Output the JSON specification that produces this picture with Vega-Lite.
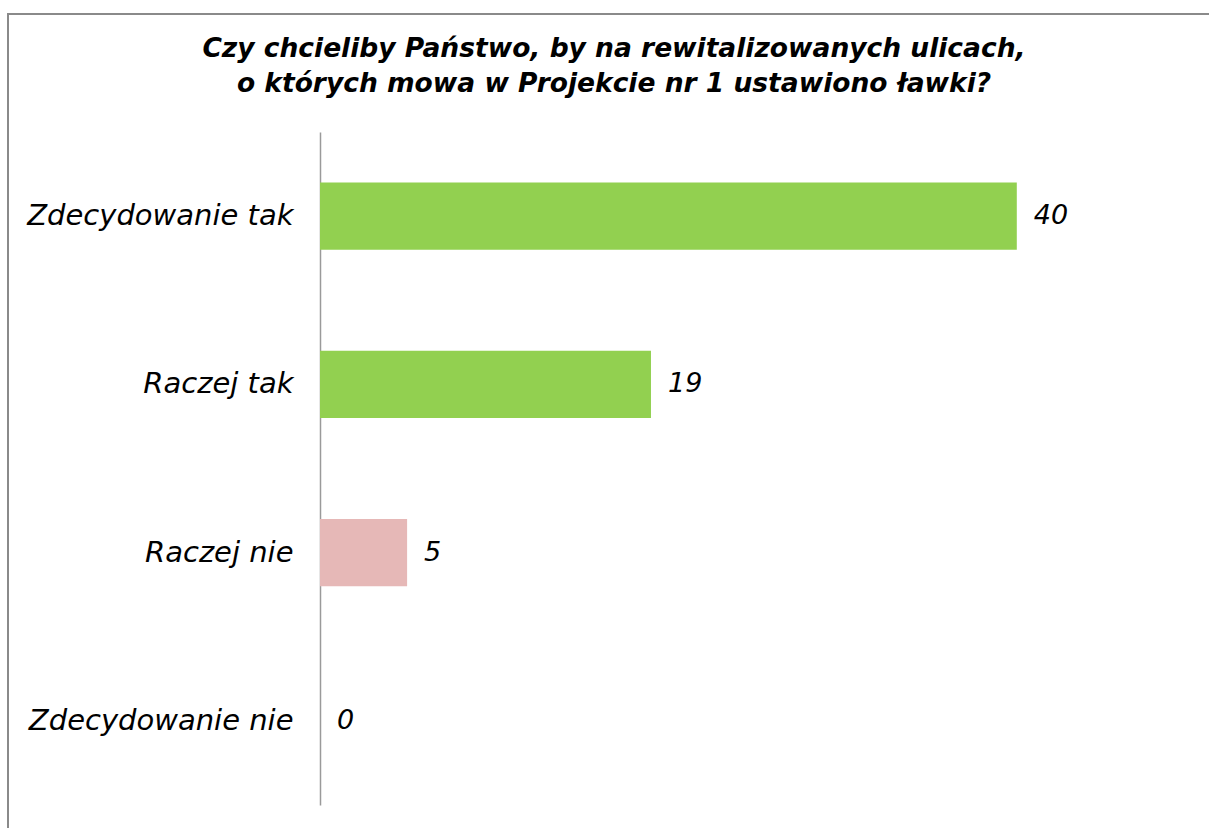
{
  "$schema": "https://vega.github.io/schema/vega-lite/v6.json",
  "autosize": {"type": "none"},
  "padding": {"left": 8, "top": 14, "right": -3, "bottom": -3},
  "width": 1204,
  "height": 817,
  "background": "white",
  "title": {
    "text": ["Czy chcieliby Państwo, by na rewitalizowanych ulicach,", "o których mowa w Projekcie nr 1 ustawiono ławki?"],
    "font": "DejaVu Sans",
    "fontSize": 26.5,
    "fontWeight": "bold",
    "fontStyle": "italic",
    "color": "black",
    "anchor": "middle",
    "frame": "group",
    "offset": -83,
    "dx": 4,
    "lineHeight": 35
  },
  "config": {
    "view": {"stroke": "#8a8a8a", "strokeWidth": 2},
    "font": "DejaVu Sans"
  },
  "data": {
    "values": [
      {"odpowiedz": "Zdecydowanie tak", "procent": 40, "kierunek": "tak"},
      {"odpowiedz": "Raczej tak", "procent": 19, "kierunek": "tak"},
      {"odpowiedz": "Raczej nie", "procent": 5, "kierunek": "nie"},
      {"odpowiedz": "Zdecydowanie nie", "procent": 0, "kierunek": "nie"}
    ]
  },
  "encoding": {
    "y": {
      "field": "odpowiedz",
      "type": "nominal",
      "sort": null,
      "scale": {"range": [118, 791], "paddingInner": 0.6, "paddingOuter": 0.3},
      "axis": {
        "title": null,
        "orient": "left",
        "offset": -312,
        "ticks": false,
        "domainColor": "#9a9a9a",
        "domainWidth": 1.5,
        "labelFont": "DejaVu Sans",
        "labelFontSize": 29,
        "labelFontStyle": "italic",
        "labelColor": "black",
        "labelPadding": 27,
        "labelLimit": 400
      }
    },
    "x": {
      "field": "procent",
      "type": "quantitative",
      "scale": {"domain": [0, 50], "range": [312, 1183]},
      "axis": null
    }
  },
  "layer": [
    {
      "mark": {"type": "bar"},
      "encoding": {
        "color": {
          "field": "kierunek",
          "type": "nominal",
          "scale": {"domain": ["tak", "nie"], "range": ["#92d050", "#e6b8b7"]},
          "legend": null
        }
      }
    },
    {
      "mark": {
        "type": "text",
        "align": "left",
        "baseline": "middle",
        "dx": 17,
        "font": "DejaVu Sans",
        "fontSize": 27,
        "fontStyle": "italic",
        "color": "black"
      },
      "encoding": {
        "text": {"field": "procent", "type": "quantitative"}
      }
    }
  ]
}
